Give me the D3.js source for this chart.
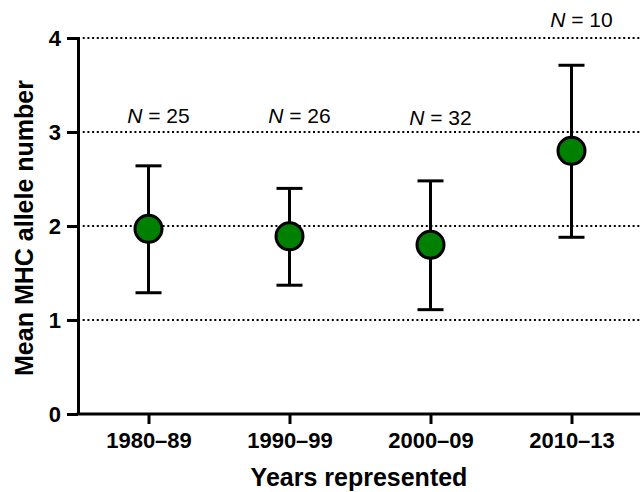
<!DOCTYPE html>
<html>
<head>
<meta charset="utf-8">
<script src="https://cdn.jsdelivr.net/npm/d3@7"></script>
<style>
  body { margin: 0; background: #fff; }
  svg { display: block; font-family: Arial, "Liberation Sans", Helvetica, sans-serif; }
</style>
</head>
<body>
<div id="chart"></div>
<script>
// categories and values
var periods = ["1980–89", "1990–99", "2000–09", "2010–13"];
var means = [1.97, 1.89, 1.80, 2.80];
var upper = [2.64, 2.40, 2.48, 3.71];
var lower = [1.29, 1.37, 1.11, 1.88];
var sampleSizes = [25, 26, 32, 10];
var nLabelY = [3.10, 3.10, 3.07, 4.12];   // where the N = labels sit, in data units
var yTicks = [0, 1, 2, 3, 4];

var width = 640, height = 492;
var svg = d3.select("#chart").append("svg")
  .attr("width", width)
  .attr("height", height);

// plot area edges
var plotLeft = 78, plotRight = 642, plotTop = 38, plotBottom = 414;

var x = d3.scalePoint()
  .domain(periods)
  .range([plotLeft, plotRight])
  .padding(0.5);

var y = d3.scaleLinear()
  .domain([0, 4])
  .range([plotBottom, plotTop]);

// dotted gridlines
svg.append("g")
  .selectAll("line")
  .data(yTicks.filter(function(d) { return d > 0; }))
  .enter().append("line")
  .attr("x1", plotLeft)
  .attr("x2", width)
  .attr("y1", function(d) { return y(d); })
  .attr("y2", function(d) { return y(d); })
  .attr("stroke", "#000")
  .attr("stroke-width", 2)
  .attr("stroke-dasharray", "2 2.7");

// y axis
var yAxis = svg.append("g")
  .attr("transform", "translate(" + plotLeft + ",0)")
  .call(d3.axisLeft(y).tickValues(yTicks).tickFormat(d3.format("d"))
    .tickSize(11).tickPadding(6).tickSizeOuter(0));
yAxis.select(".domain").attr("stroke-width", 3);
yAxis.selectAll(".tick line").attr("stroke-width", 3);
yAxis.selectAll(".tick text")
  .attr("font-size", 22)
  .attr("font-weight", "bold")
  .attr("font-family", "Arial, 'Liberation Sans', sans-serif")
  .attr("fill", "#000");

// x axis
var xAxis = svg.append("g")
  .attr("transform", "translate(0," + plotBottom + ")")
  .call(d3.axisBottom(x).tickSize(10).tickPadding(8).tickSizeOuter(0));
xAxis.select(".domain")
  .attr("d", "M" + (plotLeft - 1.5) + ",0H" + width)
  .attr("stroke-width", 3);
xAxis.selectAll(".tick line").attr("stroke-width", 3);
xAxis.selectAll(".tick text")
  .attr("font-size", 22)
  .attr("font-weight", "bold")
  .attr("font-family", "Arial, 'Liberation Sans', sans-serif")
  .attr("fill", "#000");

// error bars
var bars = svg.append("g");
periods.forEach(function(p, i) {
  var cx = x(p);
  bars.append("line")
    .attr("x1", cx).attr("x2", cx)
    .attr("y1", y(upper[i])).attr("y2", y(lower[i]))
    .attr("stroke", "#000").attr("stroke-width", 3);
  [upper[i], lower[i]].forEach(function(v) {
    bars.append("line")
      .attr("x1", cx - 13).attr("x2", cx + 13)
      .attr("y1", y(v)).attr("y2", y(v))
      .attr("stroke", "#000").attr("stroke-width", 3);
  });
});

// mean points
svg.append("g")
  .selectAll("circle")
  .data(periods)
  .enter().append("circle")
  .attr("cx", function(d) { return x(d); })
  .attr("cy", function(d, i) { return y(means[i]); })
  .attr("r", 13.5)
  .attr("fill", "#008000")
  .attr("stroke", "#000")
  .attr("stroke-width", 3);

// N = labels
var nLabels = svg.append("g")
  .selectAll("text")
  .data(periods)
  .enter().append("text")
  .attr("x", function(d) { return x(d) + 10; })
  .attr("y", function(d, i) { return y(nLabelY[i]); })
  .attr("text-anchor", "middle")
  .attr("font-size", 21)
  .attr("fill", "#000");
nLabels.append("tspan").attr("font-style", "italic").text("N");
nLabels.append("tspan").text(function(d, i) { return " = " + sampleSizes[i]; });

// axis titles
svg.append("text")
  .attr("x", 359)
  .attr("y", 486)
  .attr("text-anchor", "middle")
  .attr("font-size", 25)
  .attr("font-weight", "bold")
  .text("Years represented");

svg.append("text")
  .attr("transform", "translate(33,228) rotate(-90)")
  .attr("text-anchor", "middle")
  .attr("font-size", 25)
  .attr("font-weight", "bold")
  .text("Mean MHC allele number");
</script>
</body>
</html>
